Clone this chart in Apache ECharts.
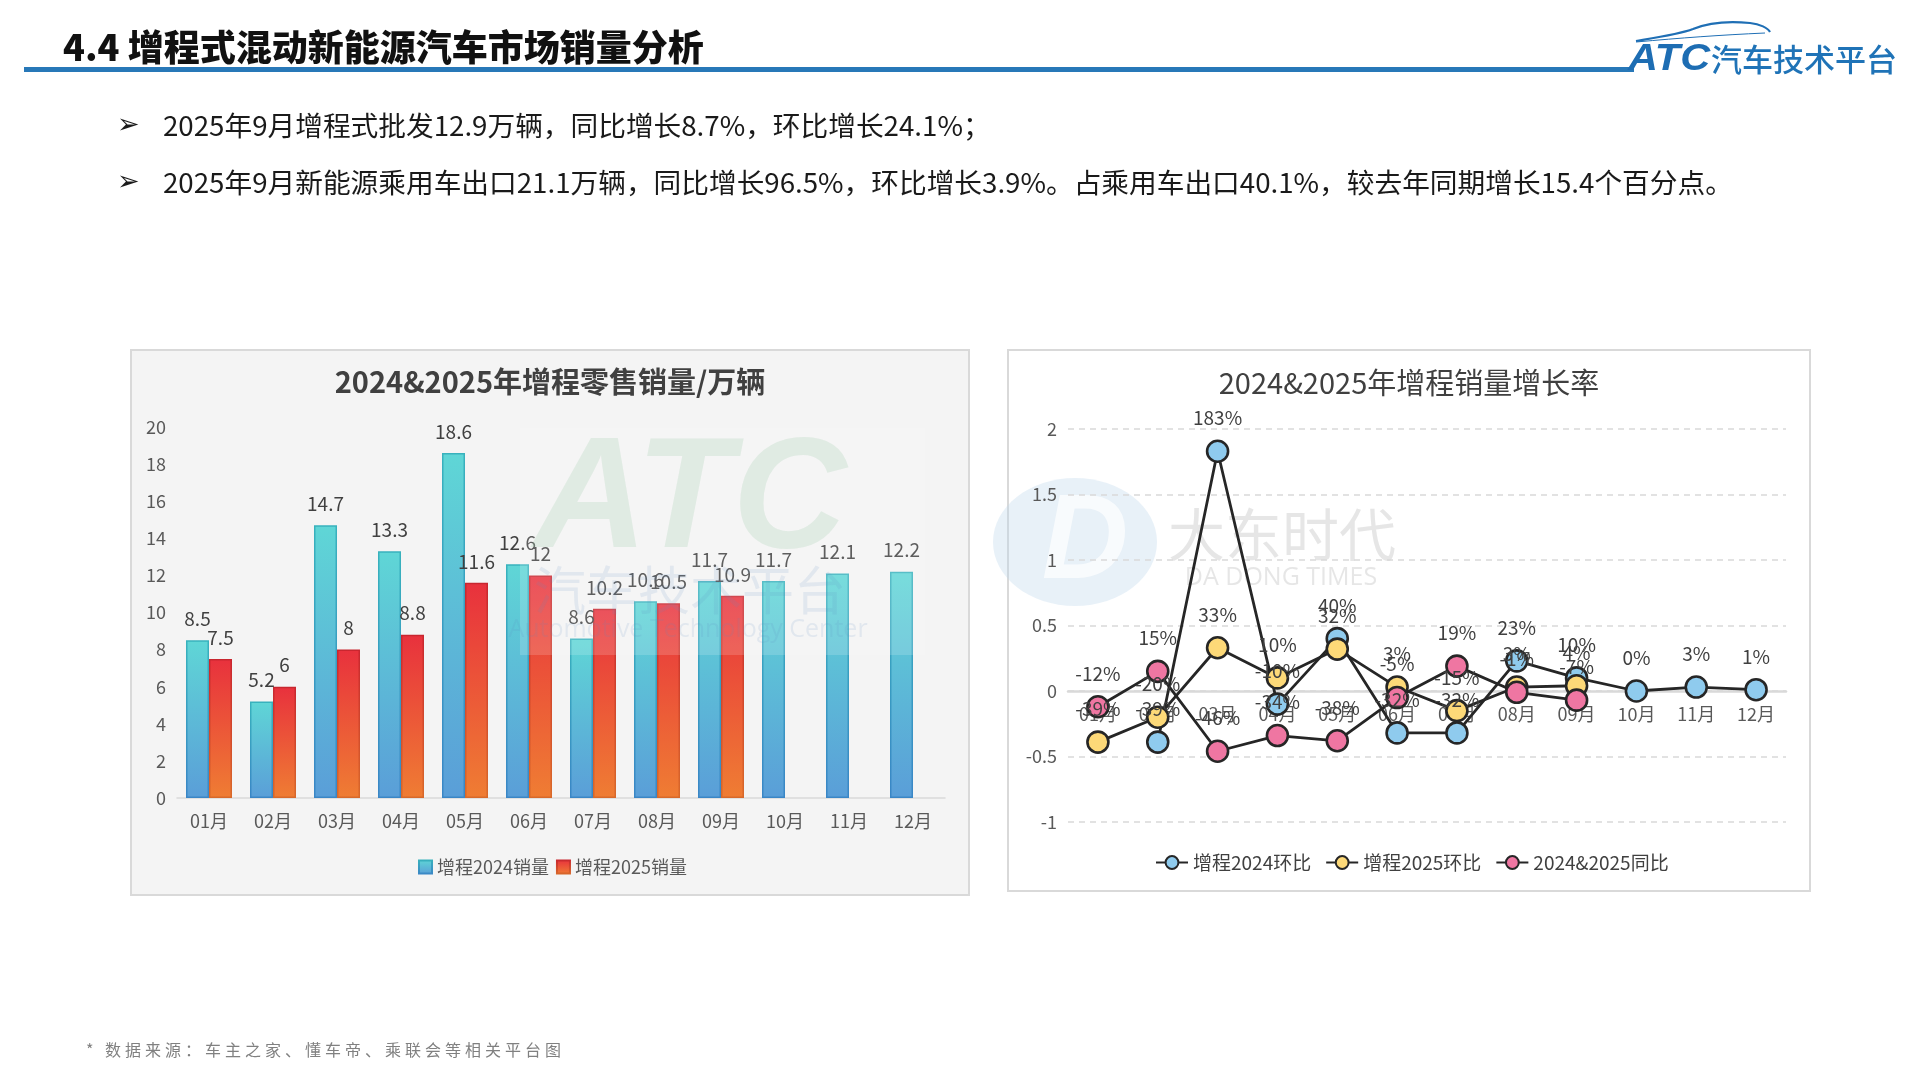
<!DOCTYPE html>
<html><head><meta charset="utf-8">
<script src="https://cdn.jsdelivr.net/npm/echarts@6/dist/echarts.min.js"></script>
<style>
html,body{margin:0;padding:0;background:#fff;width:1920px;height:1080px;overflow:hidden;font-family:'Noto Sans CJK SC','Noto Sans',sans-serif;}
#chart{position:absolute;left:0;top:0;width:1920px;height:1080px;}
.t{position:absolute;white-space:nowrap;}
</style></head>
<body>
<div id="chart"></div>
<div class="t" style="left:63px;top:20px;font-size:36px;font-weight:900;color:#111;line-height:50px;">4.4 增程式混动新能源汽车市场销量分析</div>
<div style="position:absolute;left:24px;top:67px;width:1610px;height:5px;background:#2878b8;"></div>
<svg style="position:absolute;left:1600px;top:10px;" width="320" height="80">
<path d="M36,31 C60,27 80,24 93,19 C110,12 130,11 150,13 C160,14 168,18 170,22" fill="none" stroke="#1f6fb5" stroke-width="2.2"/>
<path d="M36,32 C80,28 120,25 165,23" fill="none" stroke="#1f6fb5" stroke-width="1"/>
</svg>
<div class="t" style="left:1628px;top:38px;font-size:37px;font-weight:700;font-style:italic;color:#1d6db3;line-height:40px;font-family:'Liberation Sans',sans-serif;transform:scaleX(1.12);transform-origin:left center;">ATC</div>
<div class="t" style="left:1711px;top:39px;font-size:31px;font-weight:500;color:#1f73b7;line-height:38px;">汽车技术平台</div>
<div class="t" style="left:117px;top:106px;font-size:27px;color:#1a1a1a;line-height:36px;font-family:'DejaVu Sans';">➢</div>
<div class="t" style="left:163px;top:105px;font-size:27.7px;color:#1a1a1a;line-height:38px;">2025年9月增程式批发12.9万辆，同比增长8.7%，环比增长24.1%；</div>
<div class="t" style="left:117px;top:163px;font-size:27px;color:#1a1a1a;line-height:36px;font-family:'DejaVu Sans';">➢</div>
<div class="t" style="left:163px;top:162px;font-size:27.7px;color:#1a1a1a;line-height:38px;">2025年9月新能源乘用车出口21.1万辆，同比增长96.5%，环比增长3.9%。占乘用车出口40.1%，较去年同期增长15.4个百分点。</div>
<div class="t" style="left:86px;top:1038px;font-size:16px;color:#808080;line-height:22px;letter-spacing:4px;">* 数据来源：车主之家、懂车帝、乘联会等相关平台图</div>
<script>
const months = ['01月','02月','03月','04月','05月','06月','07月','08月','09月','10月','11月','12月'];
const sales2024 = [8.5, 5.2, 14.7, 13.3, 18.6, 12.6, 8.6, 10.6, 11.7, 11.7, 12.1, 12.2];
const sales2025 = [7.5, 6, 8, 8.8, 11.6, 12, 10.2, 10.5, 10.9, null, null, null];
const mom2024 = [null, -0.39, 1.83, -0.10, 0.40, -0.32, -0.32, 0.23, 0.10, 0.00, 0.03, 0.01];
const mom2025 = [-0.39, -0.20, 0.33, 0.10, 0.32, 0.03, -0.15, 0.03, 0.04, null, null, null];
const yoy = [-0.12, 0.15, -0.46, -0.34, -0.38, -0.05, 0.19, -0.01, -0.07, null, null, null];
const salesTicks = [0, 20, 2];
const rateTicks = [-1, 2, 0.5];

const FONT = "'Noto Sans CJK SC','Noto Sans',sans-serif";
const chart = echarts.init(document.getElementById('chart'), null, {renderer:'canvas'});
const G = echarts.graphic.LinearGradient;
const pct = p => (p.value == null ? '' : Math.round(p.value * 100) + '%');
const lineSeries = (name, data, fill) => ({
  name, type:'line', data, xAxisIndex:1, yAxisIndex:1,
  symbol:'circle', symbolSize:21,
  lineStyle:{color:'#262626', width:2.8},
  itemStyle:{color:fill, borderColor:'#262626', borderWidth:2.6},
  label:{show:true, position:'top', distance:12, formatter:pct, fontSize:19, color:'#404040', fontFamily:FONT},
  z:3
});
const option = {
  animation:false,
  textStyle:{fontFamily:FONT},
  graphic:[
    {type:'rect', z:-10, shape:{x:131,y:350,width:838,height:545}, style:{fill:'#f4f4f4', stroke:'#d9d9d9', lineWidth:2}},
    {type:'rect', z:-10, shape:{x:1008,y:350,width:802,height:541}, style:{fill:'#ffffff', stroke:'#d9d9d9', lineWidth:2}},
    {type:'text', z:5, x:550, y:382, style:{text:'2024&2025年增程零售销量/万辆', fontSize:29, fontWeight:'bold', fill:'#404040', textAlign:'center', textVerticalAlign:'middle', fontFamily:FONT}},
    {type:'text', z:5, x:1409, y:383, style:{text:'2024&2025年增程销量增长率', fontSize:29, fill:'#404040', textAlign:'center', textVerticalAlign:'middle', fontFamily:FONT}},
    // left watermark
    {type:'rect', z:20, shape:{x:520,y:428,width:405,height:227}, style:{fill:'rgba(255,255,255,0.16)'}},
    {type:'text', z:20, x:690, y:503, style:{text:'ATC', fontSize:158, fontWeight:'bold', fontStyle:'italic', fill:'rgba(150,200,165,0.22)', textAlign:'center', textVerticalAlign:'middle', fontFamily:'Liberation Sans'}},
    {type:'text', z:20, x:690, y:590, style:{text:'汽车技术平台', fontSize:52, fill:'rgba(90,140,190,0.13)', textAlign:'center', textVerticalAlign:'middle', fontFamily:FONT}},
    {type:'text', z:20, x:688, y:630, style:{text:'Automotive Technology Center', fontSize:25, fill:'rgba(90,140,190,0.13)', textAlign:'center', textVerticalAlign:'middle', fontFamily:'Open Sans'}},
    // right watermark
    {type:'ellipse', z:-5, shape:{cx:1075,cy:542,rx:82,ry:64}, style:{fill:'rgba(190,215,235,0.35)'}},
    {type:'text', z:-4, x:1085, y:545, style:{text:'D', fontSize:120, fontWeight:'bold', fontStyle:'italic', fill:'rgba(255,255,255,0.7)', textAlign:'center', textVerticalAlign:'middle', fontFamily:'Liberation Sans'}},
    {type:'text', z:-4, x:1282, y:534, style:{text:'大东时代', fontSize:57, fill:'rgba(200,200,200,0.45)', textAlign:'center', textVerticalAlign:'middle', fontFamily:FONT}},
    {type:'text', z:-4, x:1281, y:578, style:{text:'DA DONG TIMES', fontSize:25, fill:'rgba(200,200,200,0.45)', textAlign:'center', textVerticalAlign:'middle', fontFamily:'Open Sans'}}
  ],
  legend:[
    {data:['增程2024销量','增程2025销量'], left:413, top:853, itemWidth:13, itemHeight:13, itemGap:7, icon:'rect',
     textStyle:{fontSize:18, color:'#595959', fontFamily:FONT}},
    {data:['增程2024环比','增程2025环比','2024&2025同比'], left:1150, top:848, itemWidth:32, itemHeight:16, itemGap:14,
     textStyle:{fontSize:19, color:'#404040', fontFamily:FONT}}
  ],
  grid:[
    {left:177, top:427, width:768, height:371},
    {left:1068, top:429, width:718, height:393}
  ],
  xAxis:[
    {type:'category', gridIndex:0, data:months, axisTick:{show:false},
     axisLine:{lineStyle:{color:'#d9d9d9', width:1.5}},
     axisLabel:{fontSize:18, color:'#595959', margin:14, interval:0}},
    {type:'category', gridIndex:1, data:months, axisTick:{show:false},
     axisLine:{onZero:true, lineStyle:{color:'#d9d9d9', width:2.5}},
     axisLabel:{fontSize:18, color:'#595959', margin:-117, interval:0}}
  ],
  yAxis:[
    {type:'value', gridIndex:0, min:salesTicks[0], max:salesTicks[1], interval:salesTicks[2],
     splitLine:{show:false}, axisLine:{show:false}, axisTick:{show:false},
     axisLabel:{fontSize:18, color:'#595959', margin:11}},
    {type:'value', gridIndex:1, min:rateTicks[0], max:rateTicks[1], interval:rateTicks[2],
     splitLine:{lineStyle:{color:'#d9d9d9', type:[6,5], width:1.5}}, axisLine:{show:false}, axisTick:{show:false},
     axisLabel:{fontSize:18, color:'#595959', margin:11}}
  ],
  series:[
    {name:'增程2024销量', type:'bar', data:sales2024, barWidth:23, barGap:'0%', xAxisIndex:0, yAxisIndex:0,
     itemStyle:{color:new G(0,0,0,1,[{offset:0,color:'#5fd6d6'},{offset:1,color:'#5a9ed8'}]),
                borderColor:new G(0,0,0,1,[{offset:0,color:'#38b2bd'},{offset:1,color:'#3a86c6'}]), borderWidth:1.5},
     label:{show:true, position:'top', distance:12, fontSize:19, color:'#404040'}},
    {name:'增程2025销量', type:'bar', data:sales2025, barWidth:23, barGap:'0%', xAxisIndex:0, yAxisIndex:0,
     itemStyle:{color:new G(0,0,0,1,[{offset:0,color:'#e8313d'},{offset:1,color:'#ef7d33'}]),
                borderColor:new G(0,0,0,1,[{offset:0,color:'#c8262f'},{offset:1,color:'#d8692a'}]), borderWidth:1.5},
     label:{show:true, position:'top', distance:12, fontSize:19, color:'#404040'}},
    lineSeries('增程2024环比', mom2024, '#8fcbee'),
    lineSeries('增程2025环比', mom2025, '#fdd978'),
    lineSeries('2024&2025同比', yoy, '#ef76a2')
  ]
};
chart.setOption(option);
</script>
</body></html>
